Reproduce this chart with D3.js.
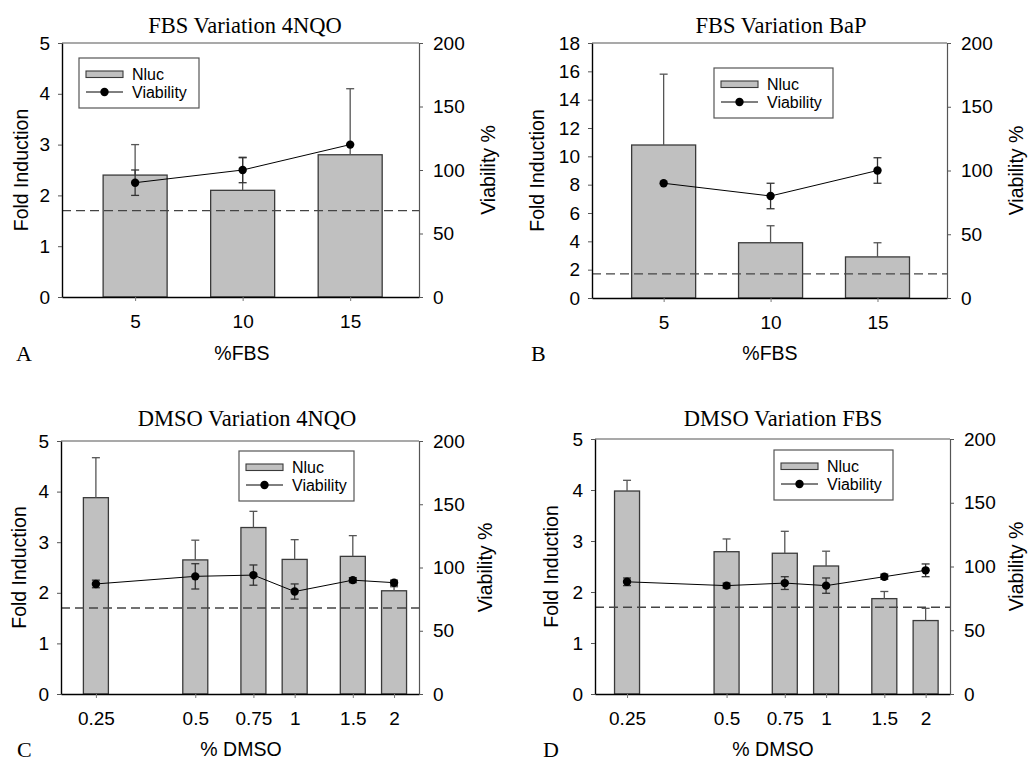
<!DOCTYPE html>
<html>
<head>
<meta charset="utf-8">
<script src="https://cdn.jsdelivr.net/npm/d3@7"></script>
<style>
  body { margin: 0; background: #fff; }
  svg { display: block; }
  .tick text { font-family: "Liberation Sans", Arial, sans-serif; font-size: 19px; fill: #000; }
</style>
</head>
<body>
<div id="chart"></div>
<script>
// panel A - FBS variation 4NQO
var fbsLevels = [5, 10, 15];
var fbsNqoNluc = [2.4, 2.1, 2.8];
var fbsNqoNlucErr = [0.6, 0.64, 1.3];
var fbsNqoViab = [90, 100, 120];
var fbsNqoViabErr = [10, 10, 0];

// panel B - FBS variation BaP
var fbsBapNluc = [10.8, 3.9, 2.9];
var fbsBapNlucErr = [5.0, 1.2, 1.0];
var fbsBapViab = [90, 80, 100];
var fbsBapViabErr = [0, 10, 10];

// panel C - DMSO variation 4NQO
var dmsoLevels = [0.25, 0.5, 0.75, 1, 1.5, 2];
var dmsoNqoNluc = [3.88, 2.65, 3.29, 2.66, 2.72, 2.04];
var dmsoNqoNlucErr = [0.79, 0.39, 0.32, 0.39, 0.41, 0.08];
var dmsoNqoViab = [87, 93, 94, 81, 90, 88];
var dmsoNqoViabErr = [3, 10, 8, 6, 2, 2];

// panel D - DMSO variation FBS
var dmsoFbsNluc = [3.98, 2.79, 2.76, 2.51, 1.87, 1.44];
var dmsoFbsNlucErr = [0.21, 0.25, 0.43, 0.29, 0.14, 0.24];
var dmsoFbsViab = [88, 85, 87, 85, 92, 97];
var dmsoFbsViabErr = [3, 2, 5, 6, 2, 5];

var foldTicksSmall = [0, 1, 2, 3, 4, 5];
var foldTicksBig = [0, 2, 4, 6, 8, 10, 12, 14, 16, 18];
var viabTicks = [0, 50, 100, 150, 200];
var cutoff = 1.7;

var svg = d3.select("#chart")
  .append("svg")
  .attr("width", 1028)
  .attr("height", 761);

var sans = '"Liberation Sans", Arial, sans-serif';
var serif = '"Liberation Serif", "Times New Roman", serif';

var panels = [
  {
    title: "FBS Variation 4NQO", letter: "A", xTitle: "%FBS",
    left: 62, right: 419, top: 43, bottom: 297,
    titleX: 245, titleY: 33, xTitleX: 242, xTitleY: 360, letterX: 16, letterY: 361,
    yLabOff: -41, rLabOff: 69,
    x: d3.scaleLinear().domain([1.6, 18.2]), xs: fbsLevels, xTicks: fbsLevels,
    yMax: 5, yTicks: foldTicksSmall, barW: 64,
    nluc: fbsNqoNluc, nlucErr: fbsNqoNlucErr, viab: fbsNqoViab, viabErr: fbsNqoViabErr,
    legend: [79, 58, 120, 50]
  },
  {
    title: "FBS Variation BaP", letter: "B", xTitle: "%FBS",
    left: 592, right: 947, top: 43, bottom: 298,
    titleX: 781, titleY: 33, xTitleX: 770, xTitleY: 360, letterX: 531, letterY: 361,
    yLabOff: -55, rLabOff: 69,
    x: d3.scaleLinear().domain([1.65, 18.25]), xs: fbsLevels, xTicks: fbsLevels,
    yMax: 18, yTicks: foldTicksBig, barW: 64,
    nluc: fbsBapNluc, nlucErr: fbsBapNlucErr, viab: fbsBapViab, viabErr: fbsBapViabErr,
    legend: [714, 68, 119, 50]
  },
  {
    title: "DMSO Variation 4NQO", letter: "C", xTitle: "% DMSO",
    left: 61, right: 419, top: 441, bottom: 694,
    titleX: 247, titleY: 426, xTitleX: 241, xTitleY: 756, letterX: 17, letterY: 757,
    yLabOff: -42, rLabOff: 66,
    x: d3.scaleLog().base(2).domain([0.196, 2.38]), xs: dmsoLevels, xTicks: dmsoLevels,
    yMax: 5, yTicks: foldTicksSmall, barW: 25,
    nluc: dmsoNqoNluc, nlucErr: dmsoNqoNlucErr, viab: dmsoNqoViab, viabErr: dmsoNqoViabErr,
    legend: [239, 451, 115, 50]
  },
  {
    title: "DMSO Variation FBS", letter: "D", xTitle: "% DMSO",
    left: 595, right: 950, top: 439, bottom: 694,
    titleX: 783, titleY: 426, xTitleX: 773, xTitleY: 756, letterX: 543, letterY: 757,
    yLabOff: -44, rLabOff: 66,
    x: d3.scaleLog().base(2).domain([0.2, 2.37]), xs: dmsoLevels, xTicks: dmsoLevels,
    yMax: 5, yTicks: foldTicksSmall, barW: 25,
    nluc: dmsoFbsNluc, nlucErr: dmsoFbsNlucErr, viab: dmsoFbsViab, viabErr: dmsoFbsViabErr,
    legend: [774, 450, 119, 50]
  }
];

panels.forEach(drawPanel);

function drawPanel(p) {
  var g = svg.append("g");
  var x = p.x.range([p.left, p.right]);
  var y = d3.scaleLinear().domain([0, p.yMax]).range([p.bottom, p.top]);
  var yv = d3.scaleLinear().domain([0, 200]).range([p.bottom, p.top]);

  // top frame line
  g.append("line")
    .attr("x1", p.left).attr("x2", p.right)
    .attr("y1", p.top).attr("y2", p.top)
    .attr("stroke", "#555").attr("stroke-width", 1.2);

  // bars
  g.selectAll(".bar")
    .data(p.xs)
    .enter().append("rect")
    .attr("x", (d) => x(d) - p.barW / 2)
    .attr("y", (d, i) => y(p.nluc[i]))
    .attr("width", p.barW)
    .attr("height", (d, i) => p.bottom - y(p.nluc[i]))
    .attr("fill", "#c0c0c0")
    .attr("stroke", "#3a3a3a")
    .attr("stroke-width", 1.3);

  // nluc error bars (upper only)
  p.xs.forEach(function(d, i) {
    var cx = x(d);
    var top = y(p.nluc[i] + p.nlucErr[i]);
    g.append("line").attr("x1", cx).attr("x2", cx)
      .attr("y1", y(p.nluc[i])).attr("y2", top)
      .attr("stroke", "#555").attr("stroke-width", 1.3);
    g.append("line").attr("x1", cx - 4).attr("x2", cx + 4)
      .attr("y1", top).attr("y2", top)
      .attr("stroke", "#555").attr("stroke-width", 1.3);
  });

  // cutoff line
  g.append("line")
    .attr("x1", p.left).attr("x2", p.right)
    .attr("y1", y(cutoff)).attr("y2", y(cutoff))
    .attr("stroke", "#444").attr("stroke-width", 1.4)
    .attr("stroke-dasharray", "9,5");

  // viability error bars
  p.xs.forEach(function(d, i) {
    if (!p.viabErr[i]) return;
    var cx = x(d);
    var hi = yv(p.viab[i] + p.viabErr[i]);
    var lo = yv(p.viab[i] - p.viabErr[i]);
    g.append("line").attr("x1", cx).attr("x2", cx)
      .attr("y1", lo).attr("y2", hi)
      .attr("stroke", "#333").attr("stroke-width", 1.3);
    [hi, lo].forEach(function(yy) {
      g.append("line").attr("x1", cx - 4).attr("x2", cx + 4)
        .attr("y1", yy).attr("y2", yy)
        .attr("stroke", "#333").attr("stroke-width", 1.3);
    });
  });

  // viability line + dots
  var line = d3.line()
    .x((d) => x(d))
    .y((d, i) => yv(p.viab[i]));
  g.append("path")
    .datum(p.xs)
    .attr("d", line)
    .attr("fill", "none")
    .attr("stroke", "#000")
    .attr("stroke-width", 1);
  g.selectAll(".dot")
    .data(p.xs)
    .enter().append("circle")
    .attr("cx", (d) => x(d))
    .attr("cy", (d, i) => yv(p.viab[i]))
    .attr("r", 4.2)
    .attr("fill", "#000");

  // axes
  var xAxis = g.append("g")
    .attr("transform", `translate(0, ${p.bottom})`)
    .call(d3.axisBottom(x).tickValues(p.xTicks).tickFormat(d3.format("")).tickSize(4).tickSizeOuter(0).tickPadding(14));
  xAxis.select(".domain").attr("stroke", "#000").attr("stroke-width", 1.4);
  xAxis.selectAll(".tick line").attr("stroke", "#777");

  var yAxis = g.append("g")
    .attr("transform", `translate(${p.left}, 0)`)
    .call(d3.axisLeft(y).tickValues(p.yTicks).tickFormat(d3.format("d")).tickSize(4).tickSizeOuter(0).tickPadding(8));
  yAxis.select(".domain").attr("stroke", "#000").attr("stroke-width", 1.4);
  yAxis.selectAll(".tick line").attr("stroke", "#555");

  var rAxis = g.append("g")
    .attr("transform", `translate(${p.right}, 0)`)
    .call(d3.axisRight(yv).tickValues(viabTicks).tickFormat(d3.format("d")).tickSize(4).tickSizeOuter(0).tickPadding(10));
  rAxis.select(".domain").attr("stroke", "#555").attr("stroke-width", 1.2);
  rAxis.selectAll(".tick line").attr("stroke", "#555");

  // texts
  g.append("text")
    .attr("x", p.titleX).attr("y", p.titleY)
    .attr("text-anchor", "middle")
    .style("font-family", serif).style("font-size", "22.5px")
    .text(p.title);

  g.append("text")
    .attr("x", p.xTitleX).attr("y", p.xTitleY)
    .attr("text-anchor", "middle")
    .style("font-family", sans).style("font-size", "19.5px")
    .text(p.xTitle);

  g.append("text")
    .attr("x", p.letterX).attr("y", p.letterY)
    .style("font-family", serif).style("font-size", "22px")
    .text(p.letter);

  var midY = (p.top + p.bottom) / 2;
  g.append("text")
    .attr("transform", `translate(${p.left + p.yLabOff}, ${midY}) rotate(-90)`)
    .attr("text-anchor", "middle").attr("dy", "0.35em")
    .style("font-family", sans).style("font-size", "19.5px")
    .text("Fold Induction");

  g.append("text")
    .attr("transform", `translate(${p.right + p.rLabOff}, ${midY}) rotate(-90)`)
    .attr("text-anchor", "middle").attr("dy", "0.35em")
    .style("font-family", sans).style("font-size", "19.5px")
    .text("Viability %");

  // legend
  var lg = g.append("g").attr("transform", `translate(${p.legend[0]}, ${p.legend[1]})`);
  lg.append("rect")
    .attr("width", p.legend[2]).attr("height", p.legend[3])
    .attr("fill", "#fff").attr("stroke", "#555").attr("stroke-width", 1.2);
  lg.append("rect")
    .attr("x", 7).attr("y", 13).attr("width", 37).attr("height", 6.5)
    .attr("fill", "#c0c0c0").attr("stroke", "#3a3a3a").attr("stroke-width", 1.1);
  lg.append("line")
    .attr("x1", 7).attr("x2", 44).attr("y1", 34).attr("y2", 34)
    .attr("stroke", "#000").attr("stroke-width", 1);
  lg.append("circle").attr("cx", 25.5).attr("cy", 34).attr("r", 4.2).attr("fill", "#000");
  lg.append("text").attr("x", 53).attr("y", 21.5)
    .style("font-family", sans).style("font-size", "16px").text("Nluc");
  lg.append("text").attr("x", 53).attr("y", 39.5)
    .style("font-family", sans).style("font-size", "16px").text("Viability");
}
</script>
</body>
</html>
